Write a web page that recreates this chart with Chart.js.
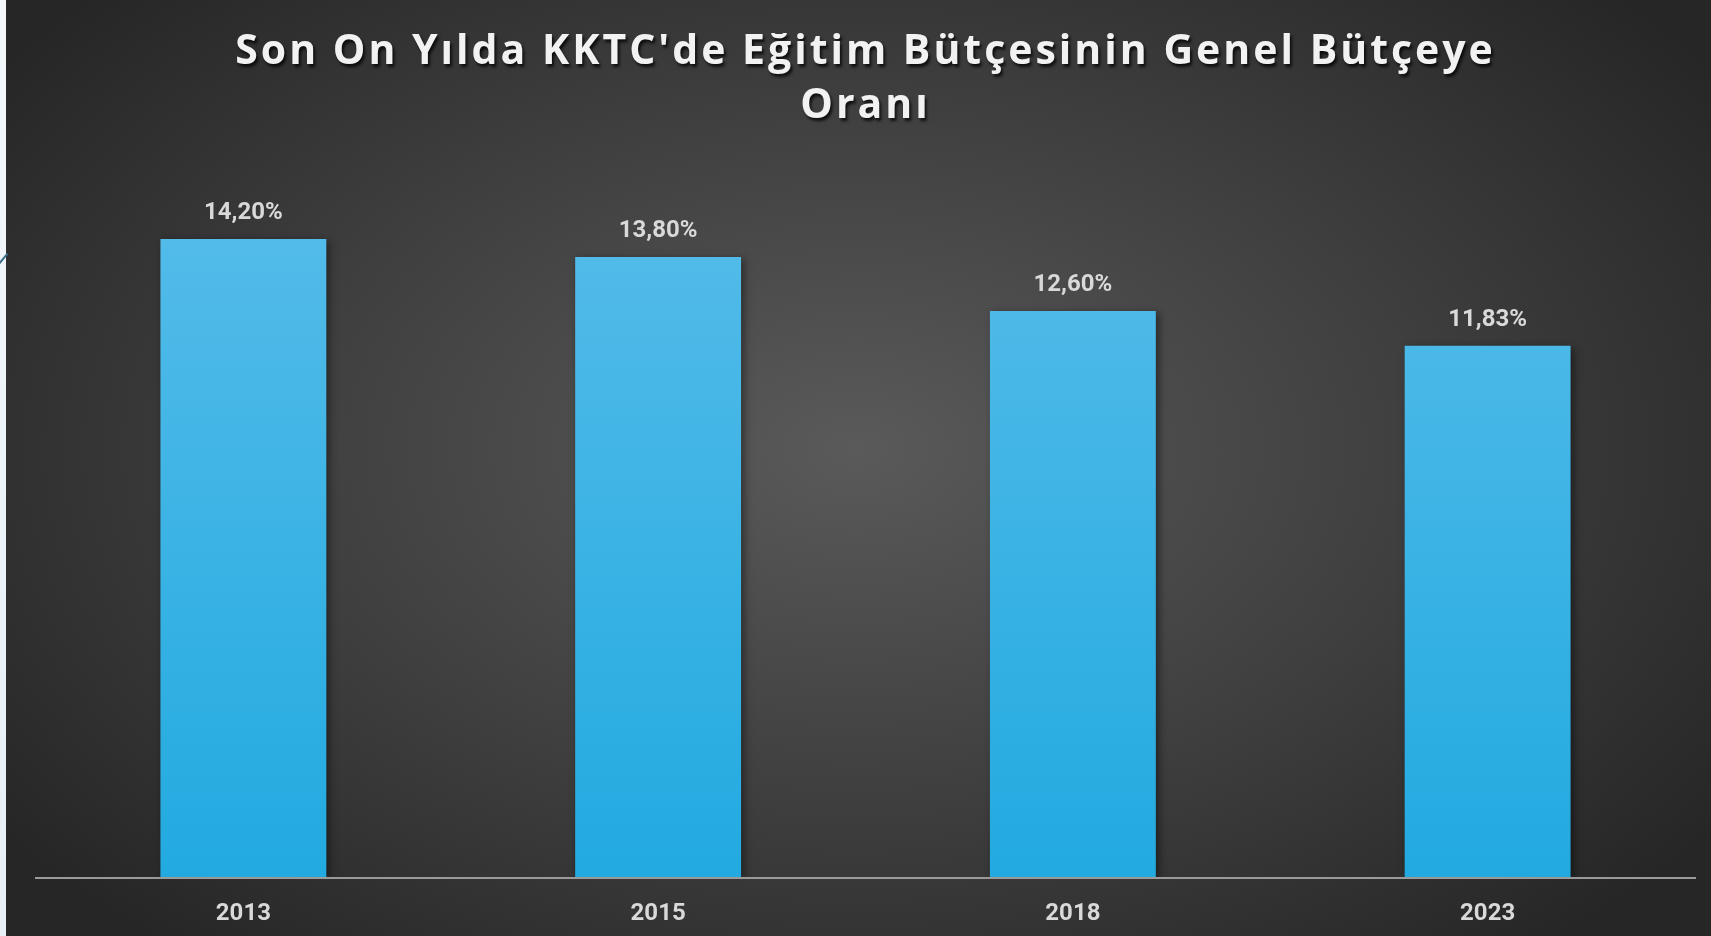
<!DOCTYPE html>
<html>
<head>
<meta charset="utf-8">
<script src="https://cdn.jsdelivr.net/npm/chart.js@4.4.1/dist/chart.umd.min.js"></script>
<style>
  html, body { margin: 0; padding: 0; width: 1711px; height: 936px; overflow: hidden; }
  body {
    background: radial-gradient(ellipse 62% 70% at 50% 48%, #5a5a5a 0%, #3e3e3e 55%, #262626 100%);
    position: relative;
  }
  #strip { position: absolute; left: 0; top: 0; width: 6px; height: 936px; background: linear-gradient(180deg, #f4f8fb, #e6f0f6); }
  #deco { position: absolute; left: -4px; top: 258px; width: 14px; height: 2px; background: #3d6f8c; transform: rotate(-50deg); }
  #wrap { position: absolute; left: 6px; top: 0; width: 1705px; height: 936px; }
</style>
</head>
<body>
<div id="strip"></div>
<div id="deco"></div>
<div id="wrap"><canvas id="c"></canvas></div>
<script>
const categories = ['2013', '2015', '2018', '2023'];
const shareValues = [14.20, 13.80, 12.60, 11.83];
const chartTitle = ["Son On Yılda KKTC'de Eğitim Bütçesinin Genel Bütçeye", 'Oranı'];

function fmt(v) { return v.toFixed(2).replace('.', ',') + '%'; }

const fxPlugin = {
  id: 'fx',
  beforeDraw(chart) {
    const ctx = chart.ctx;
    ctx.save();
    ctx.shadowColor = 'rgba(0,0,0,0.75)';
    ctx.shadowOffsetX = 2;
    ctx.shadowOffsetY = 3;
    ctx.shadowBlur = 3;
    ctx.letterSpacing = '3px';
  },
  beforeDatasetsDraw(chart) {
    const ctx = chart.ctx;
    ctx.restore();
    ctx.save();
    ctx.shadowColor = 'rgba(0,0,0,0.45)';
    ctx.shadowOffsetX = 3;
    ctx.shadowOffsetY = 2;
    ctx.shadowBlur = 8;
  },
  afterDatasetsDraw(chart) {
    const ctx = chart.ctx;
    ctx.restore();
    ctx.save();
    ctx.letterSpacing = '0px';
    ctx.font = 'bold 24px Roboto';
    ctx.fillStyle = '#d9d9d9';
    ctx.textAlign = 'center';
    ctx.textBaseline = 'middle';
    const meta = chart.getDatasetMeta(0);
    meta.data.forEach((bar, i) => {
      ctx.fillText(fmt(chart.data.datasets[0].data[i]), bar.x, bar.y - 26);
    });
    ctx.restore();
  }
};

new Chart(document.getElementById('c'), {
  type: 'bar',
  data: {
    labels: categories,
    datasets: [{
      data: shareValues,
      backgroundColor(ctx) {
        const area = ctx.chart.chartArea;
        if (!area) return '#3db3e6';
        const g = ctx.chart.ctx.createLinearGradient(0, area.top, 0, area.bottom);
        g.addColorStop(0, '#58bdea');
        g.addColorStop(1, '#22aae0');
        return g;
      },
      borderWidth: 0,
      barPercentage: 0.4,
      categoryPercentage: 1.0
    }]
  },
  options: {
    responsive: true,
    maintainAspectRatio: false,
    animation: false,
    layout: { padding: { left: 30, right: 16, top: 0, bottom: -13 } },
    plugins: {
      legend: { display: false },
      tooltip: { enabled: false },
      title: {
        display: true,
        text: chartTitle,
        color: '#f2f2f2',
        font: { family: 'Open Sans', size: 41, weight: 'bold', lineHeight: 1.33 },
        padding: { top: 25, bottom: 24 }
      }
    },
    scales: {
      x: {
        grid: { display: false, drawTicks: false, z: 1 },
        border: { display: true, color: '#9a9a9a', width: 2, z: 1 },
        ticks: { z: 1, color: '#d9d9d9', font: { family: 'Roboto', size: 24, weight: 'bold' }, padding: 21 }
      },
      y: {
        display: false,
        min: 0,
        max: 16
      }
    }
  },
  plugins: [fxPlugin]
});
</script>
</body>
</html>
